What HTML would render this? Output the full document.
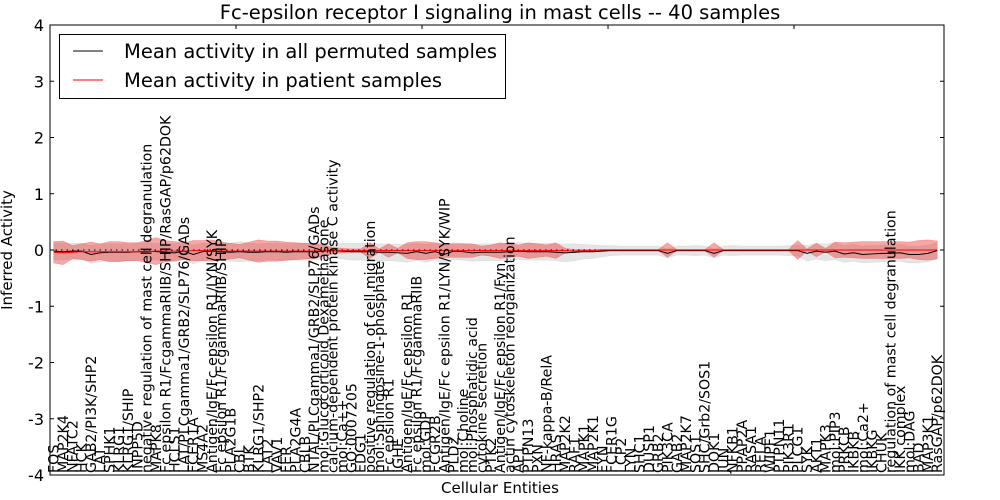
<!DOCTYPE html>
<html><head><meta charset="utf-8"><style>
body{margin:0;background:#fff;}
svg{display:block;font-family:"DejaVu Sans","Liberation Sans",sans-serif;}
</style></head><body>
<svg id="chart" width="1000" height="500" viewBox="0 0 1000 500">
<rect width="1000" height="500" fill="#fff"/>
<g id="plot"></g>
</svg>
<script>
const labels=["FOS","MAP2K4","NFATC2","HCK","GAB2/PI3K/SHP2","LAT","SPHK1","KLRG1","KLRG1/SHIP","INPP5D","negative regulation of mast cell degranulation","MAPK8","Fc epsilon R1/FcgammaRIIB/SHIP/RasGAP/p62DOK","HCLS1","LAT/PLCgamma1/GRB2/SLP76/GADs","FCER1A","MS4A2","Antigen/IgE/Fc epsilon R1/LYN/SYK","Fc epsilon R1/FcgammaRIIB/SHIP","PLA2G1B","CBL","BTK","KLRG1/SHP2","LAT2","VAV1","FER","PLA2G4A","CBLB","NTAL/PLCgamma1/GRB2/SLP76/GADs","mol:Glucocorticoid Dexamethasone","calcium-dependent protein kinase C activity","mol:Ca++","GO:0007205","EDG1","positive regulation of cell migration","mol:Sphingosine-1-phosphate","Fc epsilon R1","IGHE","Antigen/IgE/Fc epsilon R1","Fc epsilon R1/FcgammaRIIB","mol:GDP","FCGR2B","Antigen/IgE/Fc epsilon R1/LYN/SYK/WIP","PLD2","mol:Choline","mol:Phosphatidic acid","cytokine secretion","PTK2","Antigen/IgE/Fc epsilon R1/Fyn","actin cytoskeleton reorganization","AP1","PTPN13","PXN","NF-kappa-B/RelA","HRAS","MAP2K2","RAF1","MAPK1","MAP2K1","FYN","FCER1G","LCP2","LYN","SHC1","DUSP1","GRB2","PIK3CA","GAB2","MAP2K7","SOS1","SHC/Grb2/SOS1","DOK1","JUN","NFKB1","PPAP2A","RASA1","RELA","WIPF1","PTPN11","PIK3R1","PLCG1","SYK","AKT1","MAPK3","mol:PIP3","PRKCB","IKBKB","mol:Ca2+","IKBKG","CHUK","regulation of mast cell degranulation","IKK complex","mol:DAG","BAD","MAP3K1","RasGAP/p62DOK"];
const permMean=[-0.02,-0.03,-0.02,-0.02,-0.08,-0.05,-0.04,-0.04,-0.04,-0.03,
-0.02,-0.03,-0.04,-0.05,-0.02,-0.08,-0.03,-0.02,-0.03,-0.04,
-0.03,-0.04,-0.04,-0.03,-0.03,-0.04,-0.03,-0.03,-0.03,-0.02,
-0.01,-0.02,-0.03,-0.03,-0.03,-0.04,-0.04,-0.05,-0.06,-0.03,
-0.06,-0.03,-0.08,-0.02,-0.03,-0.05,-0.04,-0.04,-0.04,-0.03,
-0.02,-0.03,-0.03,-0.03,-0.04,-0.05,-0.04,-0.03,-0.03,-0.02,
-0.01,-0.01,-0.01,-0.01,-0.01,-0.01,-0.06,-0.01,-0.01,-0.01,
-0.01,-0.06,-0.01,-0.01,-0.01,-0.01,-0.01,-0.01,-0.01,-0.01,
-0.01,-0.06,-0.02,-0.04,-0.02,-0.07,-0.05,-0.08,-0.07,-0.06,
-0.06,-0.05,-0.08,-0.08,-0.06,-0.01];
const permSD=[0.15,0.15,0.14,0.14,0.16,0.16,0.15,0.15,0.15,0.15,
0.15,0.15,0.16,0.16,0.15,0.17,0.15,0.15,0.16,0.16,
0.18,0.16,0.15,0.15,0.15,0.15,0.15,0.15,0.15,0.14,
0.13,0.14,0.15,0.15,0.15,0.15,0.15,0.15,0.16,0.15,
0.16,0.15,0.17,0.15,0.15,0.15,0.15,0.15,0.15,0.15,
0.15,0.15,0.15,0.15,0.15,0.16,0.15,0.13,0.12,0.10,
0.09,0.08,0.08,0.08,0.08,0.08,0.08,0.08,0.08,0.09,
0.08,0.08,0.08,0.09,0.08,0.08,0.08,0.08,0.08,0.09,
0.10,0.14,0.14,0.15,0.15,0.15,0.15,0.15,0.15,0.15,
0.15,0.15,0.15,0.15,0.15,0.14];
const patMean=[-0.04,-0.05,-0.04,-0.03,-0.03,-0.03,-0.03,-0.03,-0.03,-0.03,
-0.03,-0.02,-0.02,-0.02,-0.02,-0.01,-0.01,-0.01,-0.02,-0.02,
-0.02,-0.02,-0.02,-0.02,-0.02,-0.02,-0.02,-0.02,-0.02,-0.01,
-0.01,-0.01,-0.01,-0.01,-0.01,-0.01,-0.01,-0.01,-0.01,-0.01,
-0.01,-0.01,-0.01,-0.01,-0.01,-0.01,-0.01,-0.01,-0.01,-0.01,
-0.01,-0.01,-0.01,-0.01,-0.01,-0.01,-0.02,-0.01,-0.01,0.00,
0.00,0.00,0.00,0.00,0.00,0.00,0.00,0.00,0.00,0.00,
0.00,0.00,0.00,0.00,0.00,0.00,0.00,0.00,0.00,0.00,
0.00,0.00,0.00,0.00,0.00,0.00,0.00,0.00,0.00,0.00,
0.00,0.00,0.00,0.00,0.00,0.00];
const patSD=[0.19,0.21,0.12,0.14,0.17,0.14,0.18,0.18,0.16,0.16,
0.20,0.24,0.19,0.17,0.15,0.18,0.18,0.19,0.16,0.14,
0.12,0.16,0.20,0.18,0.18,0.16,0.15,0.14,0.13,0.10,
0.06,0.04,0.03,0.03,0.14,0.03,0.12,0.04,0.14,0.16,
0.16,0.14,0.12,0.12,0.12,0.12,0.08,0.10,0.14,0.12,
0.10,0.14,0.12,0.10,0.14,0.04,0.03,0.02,0.02,0.01,
0.01,0.01,0.01,0.01,0.01,0.01,0.13,0.01,0.01,0.01,
0.01,0.13,0.01,0.01,0.01,0.01,0.01,0.01,0.01,0.01,
0.17,0.02,0.12,0.03,0.14,0.13,0.14,0.15,0.15,0.15,
0.15,0.15,0.14,0.17,0.18,0.16];
const yTicks=[-4,-3,-2,-1,0,1,2,3,4];

const L=50,R=944,T=25,B=475;
const xs=i=>L+(i+0.4)*9.3;
const ys=v=>T+(4-v)/8*(B-T);
const NS="http://www.w3.org/2000/svg";
const g=document.getElementById('plot');
function mk(tag,attrs){const e=document.createElementNS(NS,tag);for(const k in attrs)e.setAttribute(k,attrs[k]);g.appendChild(e);return e;}
function band(mean,sd,fill,op,name){
  let up=mean.map((m,i)=>xs(i)+','+ys(m+sd[i]));
  let dn=mean.map((m,i)=>xs(i)+','+ys(m-sd[i])).reverse();
  const p=mk('polygon',{points:up.concat(dn).join(' '),fill:fill,'fill-opacity':op,stroke:fill,'stroke-opacity':op,'stroke-width':0.5});
  
  
}
band(permMean,permSD,'#aaaaaa',0.3,'permuted-band');
band(patMean,patSD,'#ee2222',0.4,'patient-band');
const zl=mk('line',{x1:L,x2:R,y1:ys(0),y2:ys(0),stroke:'#000','stroke-width':1,'stroke-dasharray':'1.5,4'});


function line(arr,col,name){
  const p=mk('polyline',{points:arr.map((v,i)=>xs(i)+','+ys(v)).join(' '),fill:'none',stroke:col,'stroke-width':1});
  
  
}
line(permMean,'#000','permuted-mean-line');
line(patMean,'#ff0000','patient-mean-line');
const fr=mk('rect',{x:L,y:T,width:R-L,height:B-T,fill:'none',stroke:'#000','stroke-width':1});


yTicks.forEach(v=>{
  const y=ys(v);
  const t1=mk('line',{x1:L,x2:L+4,y1:y,y2:y,stroke:'#000'});
  
  
  const t2=mk('line',{x1:R-4,x2:R,y1:y,y2:y,stroke:'#000'});
  
  
  const tx=mk('text',{x:L-6,y:y+6,'text-anchor':'end','font-size':16});
  tx.textContent=v;
  
  
});
for(let k=20;k<96;k+=20){
  const t=mk('line',{x1:xs(k)-3.7,x2:xs(k)-3.7,y1:T,y2:T+4,stroke:'#000'});
  
  
}
labels.forEach((s,i)=>{
  const x=xs(i)+5;
  const t=mk('text',{x:0,y:0,'font-size':14.2,transform:`translate(${x},${B-2}) rotate(-90)`});
  t.textContent=s;
  
  
});
const ti=mk('text',{x:500,y:19,'text-anchor':'middle','font-size':19.5});
ti.textContent='Fc-epsilon receptor I signaling in mast cells -- 40 samples';


const xl=mk('text',{x:500,y:493,'text-anchor':'middle','font-size':15});
xl.textContent='Cellular Entities';


const yl=mk('text',{x:0,y:0,'text-anchor':'middle','font-size':15,transform:'translate(12,250) rotate(-90)'});
yl.textContent='Inferred Activity';


const lg=mk('rect',{x:59.5,y:34.5,width:446,height:64,fill:'#fff',stroke:'#000'});


[['#000','Mean activity in all permuted samples',51],['#ff0000','Mean activity in patient samples',80]].forEach(([c,s,y])=>{
  const l=mk('line',{x1:73,x2:103,y1:y,y2:y,stroke:c});
  
  
  const t=mk('text',{x:124,y:y+7,'font-size':19.5});
  t.textContent=s;
  
  
});
</script>
</body></html>
